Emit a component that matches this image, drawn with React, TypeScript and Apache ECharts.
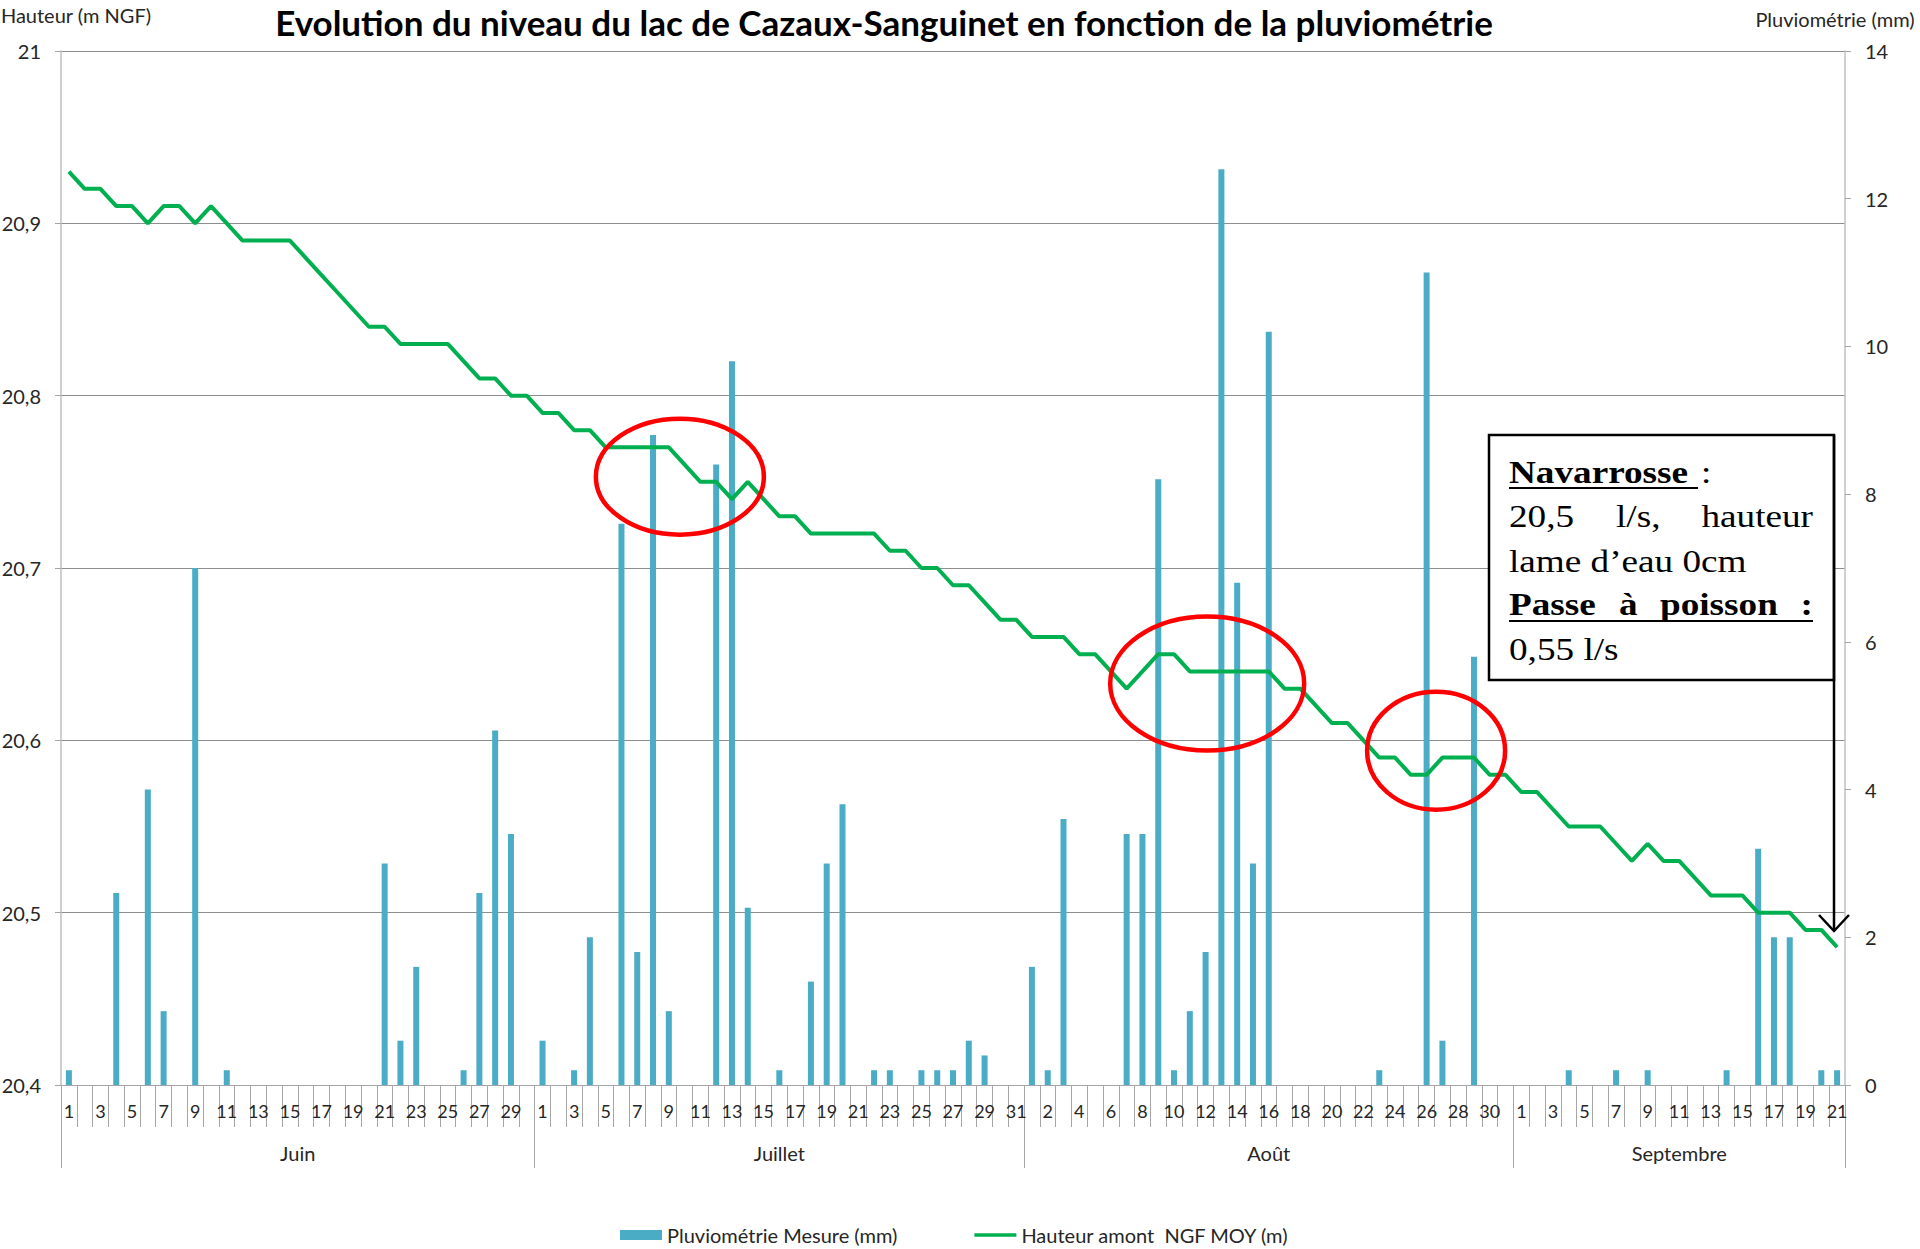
import React, { useEffect, useRef } from "react";
import * as echarts from "echarts";

// ---- Categories ----
const months = ["Juin", "Juillet", "Août", "Septembre"];
const monthLengths = [30, 31, 31, 21];

// ---- Pluviométrie (mm), one value per day ----
const rainJuin = [0.2, 0, 0, 2.6, 0, 4.0, 1.0, 0, 7.0, 0, 0.2, 0, 0, 0, 0, 0, 0, 0, 0, 0, 3.0, 0.6, 1.6, 0, 0, 0.2, 2.6, 4.8, 3.4, 0];
const rainJuillet = [0.6, 0, 0.2, 2.0, 0, 7.6, 1.8, 8.8, 1.0, 0, 0, 8.4, 9.8, 2.4, 0, 0.2, 0, 1.4, 3.0, 3.8, 0, 0.2, 0.2, 0, 0.2, 0.2, 0.2, 0.6, 0.4, 0, 0];
const rainAout = [1.6, 0.2, 3.6, 0, 0, 0, 3.4, 3.4, 8.2, 0.2, 1.0, 1.8, 12.4, 6.8, 3.0, 10.2, 0, 0, 0, 0, 0, 0, 0.2, 0, 0, 11.0, 0.6, 0, 5.8, 0, 0];
const rainSeptembre = [0, 0, 0, 0.2, 0, 0, 0.2, 0, 0.2, 0, 0, 0, 0, 0.2, 0, 3.2, 2.0, 2.0, 0, 0.2, 0.2];

// ---- Hauteur amont NGF MOY (m) ----
const levelJuin = [20.93, 20.92, 20.92, 20.91, 20.91, 20.90, 20.91, 20.91, 20.90, 20.91, 20.90, 20.89, 20.89, 20.89, 20.89, 20.88, 20.87, 20.86, 20.85, 20.84, 20.84, 20.83, 20.83, 20.83, 20.83, 20.82, 20.81, 20.81, 20.80, 20.80];
const levelJuillet = [20.79, 20.79, 20.78, 20.78, 20.77, 20.77, 20.77, 20.77, 20.77, 20.76, 20.75, 20.75, 20.74, 20.75, 20.74, 20.73, 20.73, 20.72, 20.72, 20.72, 20.72, 20.72, 20.71, 20.71, 20.70, 20.70, 20.69, 20.69, 20.68, 20.67, 20.67];
const levelAout = [20.66, 20.66, 20.66, 20.65, 20.65, 20.64, 20.63, 20.64, 20.65, 20.65, 20.64, 20.64, 20.64, 20.64, 20.64, 20.64, 20.63, 20.63, 20.62, 20.61, 20.61, 20.60, 20.59, 20.59, 20.58, 20.58, 20.59, 20.59, 20.59, 20.58, 20.58];
const levelSeptembre = [20.57, 20.57, 20.56, 20.55, 20.55, 20.55, 20.54, 20.53, 20.54, 20.53, 20.53, 20.52, 20.51, 20.51, 20.51, 20.50, 20.50, 20.50, 20.49, 20.49, 20.48];

// ---- Axis ticks ----
const leftMin = 20.4, leftMax = 21, leftStep = 0.1;
const rightMin = 0, rightMax = 14, rightStep = 2;

// ---- Annotations (data coordinates: day index, level) ----
const circleAnnotations = [
  { x: 38.7, y: 20.753, rx: 84, ry: 58 },
  { x: 72.1, y: 20.633, rx: 97, ry: 67 },
  { x: 86.6, y: 20.594, rx: 69, ry: 59 },
];

const title = "Evolution du niveau du lac de Cazaux-Sanguinet en fonction de la pluviométrie";
const barName = "Pluviométrie Mesure (mm)";
const lineName = "Hauteur amont  NGF MOY (m)";

export default function App() {
  const ref = useRef<HTMLDivElement>(null);

  useEffect(() => {
    if (!ref.current) return;
    const chart = echarts.init(ref.current, undefined, { renderer: "svg" });

    const days: string[] = [];
    const monthCat: string[] = [];
    const monthStarts: number[] = [];
    const monthLabelIdx: Record<number, string> = {};
    let acc = 0;
    monthLengths.forEach((n, m) => {
      monthStarts.push(acc);
      monthLabelIdx[acc + Math.floor(n / 2)] = months[m];
      for (let d = 1; d <= n; d++) {
        days.push(String(d));
        monthCat.push(months[m]);
      }
      acc += n;
    });
    const rain = [...rainJuin, ...rainJuillet, ...rainAout, ...rainSeptembre];
    const level = [...levelJuin, ...levelJuillet, ...levelAout, ...levelSeptembre];

    const font = "Lato";
    const txt = "#262626";
    const green = "#00B050";

    const option: any = {
      animation: false,
      backgroundColor: "#ffffff",
      textStyle: { fontFamily: font },
      title: {
        text: title,
        left: 884,
        top: 4,
        textAlign: "center",
        padding: 0,
        textStyle: { fontFamily: font, fontWeight: "bold", fontSize: 35, color: "#000" },
      },
      grid: { left: 61, right: 75, top: 51, bottom: 164, containLabel: false, outerBoundsMode: "none" },
      legend: {
        left: 615,
        top: 1220,
        itemWidth: 42,
        itemHeight: 10,
        itemGap: 77,
        textStyle: { fontFamily: font, fontSize: 20, color: txt },
        data: [
          { name: barName, icon: "rect" },
          { name: lineName, icon: "path://M0,0L42,0L42,3.5L0,3.5Z", itemStyle: { color: green } },
        ],
      },
      xAxis: [
        {
          type: "category",
          data: days,
          position: "bottom",
          axisLine: { show: true, lineStyle: { color: "#A6A6A6", width: 1 } },
          axisTick: { show: true, interval: 0, length: 42, lineStyle: { color: "#A6A6A6", width: 1 } },
          axisLabel: { interval: 1, margin: 17, fontSize: 18, color: txt, fontFamily: font, hideOverlap: false },
          splitLine: { show: false },
        },
        {
          type: "category",
          data: monthCat,
          position: "bottom",
          axisLine: { show: false },
          axisTick: {
            show: true,
            length: 83,
            interval: (i: number) => monthStarts.includes(i),
            lineStyle: { color: "#A6A6A6", width: 1 },
          },
          axisLabel: {
            margin: 58,
            fontSize: 20,
            color: txt,
            fontFamily: font,
            interval: (i: number) => monthLabelIdx[i] !== undefined,
            formatter: (v: string) => (monthLengths[months.indexOf(v)] % 2 === 0 ? `{e|${v}}` : `{o|${v}}`),
            rich: {
              e: { padding: [0, 16, 0, 0], fontSize: 20, color: txt, fontFamily: font },
              o: { fontSize: 20, color: txt, fontFamily: font },
            },
          },
          splitLine: { show: false },
        },
      ],
      yAxis: [
        {
          type: "value",
          min: leftMin,
          max: leftMax,
          interval: leftStep,
          name: "Hauteur (m NGF)",
          nameLocation: "end",
          nameGap: 26,
          nameTextStyle: { fontFamily: font, fontSize: 20, color: txt, padding: [0, 0, 0, 30] },
          axisLine: { show: true, lineStyle: { color: "#BFBFBF", width: 1.5 } },
          axisTick: { show: true, length: 6, lineStyle: { color: "#A6A6A6" } },
          axisLabel: {
            margin: 20,
            fontSize: 20,
            color: txt,
            fontFamily: font,
            formatter: (v: number) => {
              const s = (Math.round(v * 10) / 10).toFixed(1);
              return (s.endsWith(".0") ? s.slice(0, -2) : s).replace(".", ",");
            },
          },
          splitLine: { show: true, lineStyle: { color: "#8E8E8E", width: 1 } },
        },
        {
          type: "value",
          min: rightMin,
          max: rightMax,
          interval: rightStep,
          position: "right",
          name: "Pluviométrie (mm)",
          nameLocation: "end",
          nameGap: 22,
          nameTextStyle: { fontFamily: font, fontSize: 20, color: txt, padding: [0, 20, 0, 0] },
          axisLine: { show: true, lineStyle: { color: "#BFBFBF", width: 1.5 } },
          axisTick: { show: true, length: 6, lineStyle: { color: "#A6A6A6" } },
          axisLabel: { margin: 20, fontSize: 20, color: txt, fontFamily: font },
          splitLine: { show: false },
        },
      ],
      series: [
        {
          name: barName,
          type: "bar",
          xAxisIndex: 0,
          yAxisIndex: 1,
          barWidth: 6,
          itemStyle: { color: "#4BACC6" },
          data: rain,
        },
        {
          name: lineName,
          type: "line",
          xAxisIndex: 0,
          yAxisIndex: 0,
          symbol: "none",
          showSymbol: false,
          lineStyle: { color: green, width: 4 },
          itemStyle: { color: green },
          data: level,
        },
      ],
    };

    chart.setOption(option);

    const toPx = (x: number, y: number) => {
      const i0 = Math.floor(x);
      const f = x - i0;
      const p0 = chart.convertToPixel({ xAxisIndex: 0, yAxisIndex: 0 }, [i0, y]) as number[];
      const p1 = chart.convertToPixel({ xAxisIndex: 0, yAxisIndex: 0 }, [i0 + 1, y]) as number[];
      return [p0[0] + (p1[0] - p0[0]) * f, p0[1]];
    };

    const ellipses = circleAnnotations.map((c) => {
      const [cx, cy] = toPx(c.x, c.y);
      return {
        type: "ellipse",
        shape: { cx, cy, rx: c.rx, ry: c.ry },
        style: { fill: "none", stroke: "#FF0000", lineWidth: 4.5 },
        z: 100,
      };
    });

    const serif = "'Liberation Serif', 'Times New Roman', serif";
    const fs = 31;
    const sx = 1.2;
    const t = (text: string, x: number, baseline: number, opts: any = {}) => ({
      type: "text",
      x,
      y: baseline - 0.34 * fs,
      scaleX: sx,
      style: {
        text,
        fill: "#000",
        font: `${opts.bold ? "bold " : ""}${fs}px ${serif}`,
        textAlign: opts.align || "left",
        textVerticalAlign: "middle",
      },
      z: 111,
    });

    const boxX = 1489, boxY = 435, boxW = 345, boxH = 245;
    const textLeft = 1509, textRight = 1813;
    const box = {
      type: "group",
      children: [
        {
          type: "rect",
          shape: { x: boxX, y: boxY, width: boxW, height: boxH },
          style: { fill: "#ffffff", stroke: "#000", lineWidth: 2.5 },
          z: 110,
        },
        t("Navarrosse", textLeft, 483, { bold: true }),
        t(":", 1701, 483),
        { type: "line", shape: { x1: textLeft, y1: 488, x2: 1698, y2: 488 }, style: { stroke: "#000", lineWidth: 2 }, z: 111 },
        t("20,5", textLeft, 527),
        t("l/s,", 1616, 527),
        t("hauteur", textRight, 527, { align: "right" }),
        t("lame d’eau 0cm", textLeft, 572),
        t("Passe", textLeft, 615, { bold: true }),
        t("à", 1619, 615, { bold: true }),
        t("poisson", 1660, 615, { bold: true }),
        t(":", textRight, 615, { bold: true, align: "right" }),
        { type: "line", shape: { x1: textLeft, y1: 621, x2: textRight, y2: 621 }, style: { stroke: "#000", lineWidth: 2 }, z: 111 },
        t("0,55 l/s", textLeft, 660),
        { type: "line", shape: { x1: 1834, y1: boxY, x2: 1834, y2: 931 }, style: { stroke: "#000", lineWidth: 2.5 }, z: 112 },
        { type: "polyline", shape: { points: [[1819, 915], [1834, 931], [1849, 915]] }, style: { stroke: "#000", lineWidth: 2.5, fill: "none" }, z: 112 },
      ],
    };

    chart.setOption({ graphic: [...ellipses, box] });

    return () => chart.dispose();
  }, []);

  return <div ref={ref} style={{ position: "absolute", left: 0, top: 0, width: 1920, height: 1249 }} />;
}
